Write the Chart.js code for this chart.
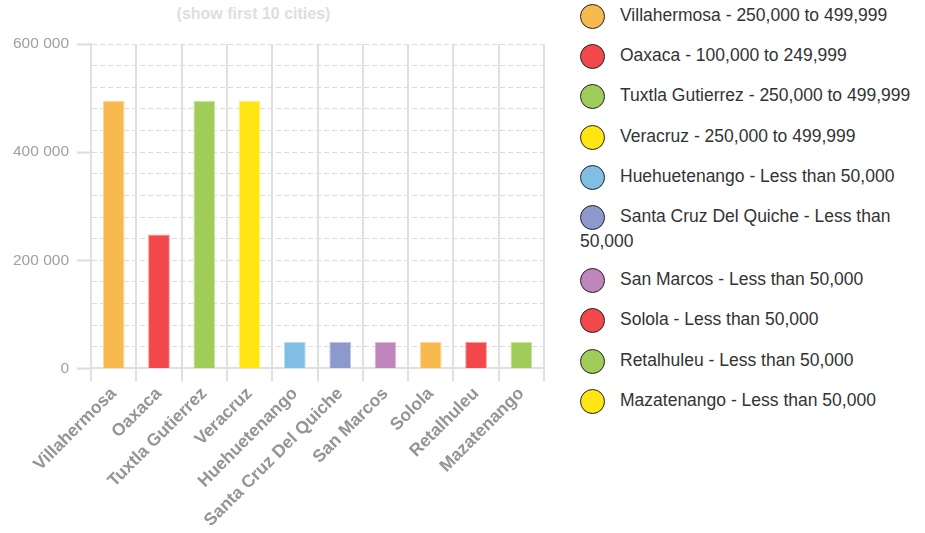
<!DOCTYPE html>
<html>
<head>
<meta charset="utf-8">
<script src="https://cdn.jsdelivr.net/npm/chart.js@4/dist/chart.umd.min.js"></script>
<style>
  html, body { margin: 0; padding: 0; background: #fff; }
  #wrap { position: relative; width: 925px; height: 533px; overflow: hidden; font-family: "Liberation Sans", Arial, Helvetica, sans-serif; }
  #title { position: absolute; left: 0; width: 507px; top: 4px; text-align: center; font-weight: bold; font-size: 16px; color: #dedede; line-height: 20px; }
  #chartBox { position: absolute; left: 0; top: 0; width: 552px; height: 533px; }
  #legend { position: absolute; left: 580px; top: 4px; width: 340px; font-size: 17.5px; color: #333; }
  .item { line-height: 23px; margin-bottom: 15.2px; }
  .dot { display: inline-block; width: 25px; height: 25px; border: 1px solid #222; border-radius: 50%; vertical-align: -8px; margin-right: 15px; box-sizing: border-box; }
</style>
</head>
<body>
<div id="wrap">
  <div id="title"></div>
  <div id="chartBox"><canvas id="c"></canvas></div>
  <div id="legend"></div>
</div>
<script>
const titleText = "(show first 10 cities)";
const cities = ["Villahermosa", "Oaxaca", "Tuxtla Gutierrez", "Veracruz", "Huehuetenango", "Santa Cruz Del Quiche", "San Marcos", "Solola", "Retalhuleu", "Mazatenango"];
const populations = [495000, 247500, 495000, 495000, 49000, 49000, 49000, 49000, 49000, 49000];
const ranges = ["250,000 to 499,999", "100,000 to 249,999", "250,000 to 499,999", "250,000 to 499,999", "Less than 50,000", "Less than 50,000", "Less than 50,000", "Less than 50,000", "Less than 50,000", "Less than 50,000"];
const barColors = ["#F8B94F", "#F2484C", "#A0CD5A", "#FFE514", "#80BFE3", "#8C99CD", "#BF86BB", "#F8B94F", "#F2484C", "#A0CD5A"];
const legendColors = ["#F8B94F", "#F2484C", "#A0CD5A", "#FFE514", "#80BFE3", "#8C99CD", "#BF86BB", "#F2484C", "#A0CD5A", "#FFE514"];
const yTickValues = [0, 200000, 400000, 600000];

document.getElementById('title').textContent = titleText;

function lighten(hex, f) {
  const n = parseInt(hex.slice(1), 16);
  const r = (n >> 16) & 255, g = (n >> 8) & 255, b = n & 255;
  const m = c => Math.round(c + (255 - c) * f);
  return `rgb(${m(r)},${m(g)},${m(b)})`;
}

function fmt(v) { return String(v).replace(/\B(?=(\d{3})+(?!\d))/g, ' '); }

const FONT = '"Liberation Sans", Arial, Helvetica, sans-serif';

new Chart(document.getElementById('c'), {
  type: 'bar',
  data: {
    labels: cities,
    datasets: [{
      data: populations,
      backgroundColor: barColors,
      borderColor: barColors.map(c => lighten(c, 0.45)),
      borderWidth: 1,
      borderSkipped: 'bottom',
      categoryPercentage: 0.8,
      barPercentage: 0.6
    }]
  },
  options: {
    responsive: true,
    maintainAspectRatio: false,
    animation: false,
    layout: { padding: { left: 5, right: 8, top: 44, bottom: 0 } },
    plugins: { legend: { display: false }, title: { display: false }, tooltip: { enabled: false } },
    scales: {
      x: {
        grid: { color: '#e0e0e0', lineWidth: 2, tickLength: 13, offset: true },
        border: { color: '#e0e0e0', width: 2 },
        ticks: {
          color: '#959595',
          font: { family: FONT, size: 17.5, weight: 'bold' },
          minRotation: 45, maxRotation: 45, autoSkip: false, padding: 2
        }
      },
      y: {
        min: 0, max: 600000,
        grid: {
          color: '#dcdcdc', lineWidth: 1, tickLength: 14,
          tickColor: ctx => (yTickValues.includes(ctx.tick.value) ? '#dcdcdc' : 'rgba(0,0,0,0)'),
          tickWidth: 2
        },
        border: { color: '#e0e0e0', width: 2, dash: [5, 3] },
        ticks: {
          stepSize: 40000,
          autoSkip: false,
          color: '#a0a0a0',
          padding: 8,
          font: { family: FONT, size: 15.5 },
          callback: v => (yTickValues.includes(v) ? fmt(v) : '')
        }
      }
    }
  }
});

const leg = document.getElementById('legend');
cities.forEach((c, i) => {
  const d = document.createElement('div');
  d.className = 'item';
  const s = document.createElement('span');
  s.className = 'dot';
  s.style.background = legendColors[i];
  d.appendChild(s);
  d.appendChild(document.createTextNode(c + ' - ' + ranges[i]));
  leg.appendChild(d);
});
</script>
</body>
</html>
